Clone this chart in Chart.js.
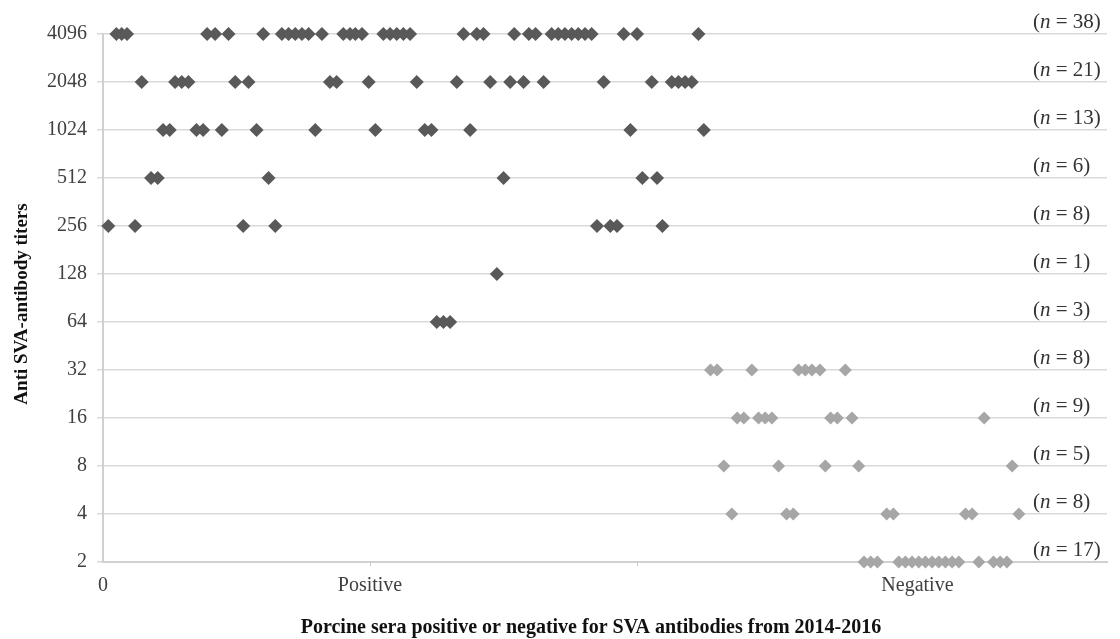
<!DOCTYPE html>
<html>
<head>
<meta charset="utf-8">
<script src="https://cdn.jsdelivr.net/npm/chart.js@4"></script>
<style>
  html, body { margin: 0; padding: 0; background: #fff; }
</style>
</head>
<body>
<canvas id="titerChart"></canvas>
<script>
// titer levels (log2 axis), top to bottom
const titerLevels = [4096, 2048, 1024, 512, 256, 128, 64, 32, 16, 8, 4, 2];

// sample positions along the x axis for each titer row
const xAt4096 = [5, 7, 9, 39, 42, 47, 60, 67, 69.5, 72, 74.5, 77, 82, 90, 92.5, 94.5, 97,
    105, 107.5, 110, 112.5, 115, 135, 140, 142.5, 154, 159.5, 162,
    168, 170.5, 173, 175.5, 178, 180.5, 183, 195, 200, 223];
const xAt2048 = [14.5, 27, 29.5, 32, 49.5, 54.5, 85, 87.5, 99.5, 117.5, 132.5, 145,
    152.5, 157.5, 165, 187.5, 205.5, 213, 215.5, 218, 220.5];
const xAt1024 = [22.5, 25, 35, 37.5, 44.5, 57.5, 79.5, 102, 120.5, 123, 137.5, 197.5, 225];
const xAt512 = [18, 20.5, 62, 150, 202, 207.5];
const xAt256 = [2, 12, 52.5, 64.5, 185, 190, 192.5, 209.5];
const xAt128 = [147.5];
const xAt64 = [125, 127.5, 130];
const xAt32 = [227.5, 230, 243, 260.5, 263, 265.5, 268.5, 278];
const xAt16 = [237.5, 240, 245.5, 248, 250.5, 272.5, 275, 280.5, 330];
const xAt8 = [232.5, 253, 270.5, 283, 340.5];
const xAt4 = [235.5, 256, 258.5, 293.5, 296, 323, 325.5, 343];
const xAt2 = [285, 287.5, 290, 298, 300.5, 303, 305.5, 308, 310.5, 313, 315.5, 318, 320.5,
    328, 333.5, 336, 338.5];

const rowsX = [xAt4096, xAt2048, xAt1024, xAt512, xAt256, xAt128, xAt64,
    xAt32, xAt16, xAt8, xAt4, xAt2];
const positiveLevels = [4096, 2048, 1024, 512, 256, 128, 64];

// x axis ticks
const xTickValues = [0, 100, 200, 305];
const xTickLabels = ['0', 'Positive', '', 'Negative'];

const yTitle = 'Anti SVA-antibody titers';
const xTitle = 'Porcine sera positive or negative for SVA antibodies from 2014-2016';

const SERIF = '"Liberation Serif", "Times New Roman", serif';

const positivePts = [];
const negativePts = [];
titerLevels.forEach((t, i) => {
    const target = positiveLevels.includes(t) ? positivePts : negativePts;
    rowsX[i].forEach(x => target.push({ x: x, y: t }));
});

// (n = ..) labels at right end of every row
const nLabelPlugin = {
    id: 'nLabels',
    afterDatasetsDraw(chart) {
        const ctx = chart.ctx;
        const yScale = chart.scales.y;
        ctx.save();
        ctx.fillStyle = '#333';
        ctx.textBaseline = 'middle';
        ctx.textAlign = 'left';
        titerLevels.forEach((t, i) => {
            const y = yScale.getPixelForValue(t) - 12;
            let x = 1033;
            const parts = [
                ['(', 'normal'],
                ['n', 'italic'],
                [' = ' + rowsX[i].length + ')', 'normal']
            ];
            parts.forEach(([txt, style]) => {
                ctx.font = style + ' 21px ' + SERIF;
                ctx.fillText(txt, x, y);
                x += ctx.measureText(txt).width;
            });
        });
        ctx.restore();
    }
};

// axis titles drawn by hand so they sit where the original has them
const axisTitlePlugin = {
    id: 'axisTitles',
    afterDraw(chart) {
        const ctx = chart.ctx;
        ctx.save();
        ctx.fillStyle = '#111';
        ctx.font = 'bold 20px ' + SERIF;
        ctx.textAlign = 'center';
        ctx.textBaseline = 'middle';
        ctx.fillText(xTitle, 591, 628);
        ctx.font = 'bold 19px ' + SERIF;
        ctx.translate(22, 304);
        ctx.rotate(-Math.PI / 2);
        ctx.fillText(yTitle, 0, 0);
        ctx.restore();
    }
};

const canvas = document.getElementById('titerChart');
canvas.width = 1120;
canvas.height = 639;
canvas.style.width = '1120px';
canvas.style.height = '639px';

new Chart(canvas, {
    type: 'scatter',
    data: {
        datasets: [{
            label: 'Positive',
            data: positivePts,
            pointStyle: 'rectRot',
            pointRadius: 7,
            pointHoverRadius: 7,
            backgroundColor: '#595959',
            borderColor: '#595959',
            borderWidth: 0,
            clip: false
        }, {
            label: 'Negative',
            data: negativePts,
            pointStyle: 'rectRot',
            pointRadius: 6.5,
            pointHoverRadius: 6.5,
            backgroundColor: '#a6a6a6',
            borderColor: '#a6a6a6',
            borderWidth: 0,
            clip: false
        }]
    },
    options: {
        responsive: false,
        maintainAspectRatio: false,
        animation: false,
        layout: { padding: { top: 34, right: 13, left: 0, bottom: 0 } },
        plugins: {
            legend: { display: false },
            tooltip: { enabled: false }
        },
        scales: {
            x: {
                type: 'linear',
                min: 0,
                max: 376,
                afterFit(scale) { scale.height = 77; },
                afterBuildTicks(scale) {
                    scale.ticks = xTickValues.map(v => ({ value: v }));
                },
                ticks: {
                    autoSkip: false,
                    maxRotation: 0,
                    padding: 8,
                    color: '#404040',
                    font: { family: SERIF, size: 20 },
                    callback: (v) => xTickLabels[xTickValues.indexOf(v)]
                },
                grid: {
                    drawOnChartArea: false,
                    drawTicks: true,
                    tickLength: 4,
                    color: (c) => (c.tick && (c.tick.value === 100 || c.tick.value === 200)) ? '#c8c8c8' : 'rgba(0,0,0,0)'
                },
                border: { color: '#d0d0d0', width: 2 }
            },
            y: {
                type: 'logarithmic',
                min: 2,
                max: 4096,
                afterFit(scale) { scale.width = 103; },
                afterBuildTicks(scale) {
                    scale.ticks = titerLevels.map(v => ({ value: v }));
                },
                ticks: {
                    autoSkip: false,
                    padding: 10,
                    color: '#404040',
                    font: { family: SERIF, size: 20 },
                    callback: (v) => String(v)
                },
                grid: {
                    color: '#d9d9d9',
                    lineWidth: 1.5,
                    tickLength: 6
                },
                border: { color: '#d0d0d0', width: 2 }
            }
        }
    },
    plugins: [nLabelPlugin, axisTitlePlugin]
});
</script>
</body>
</html>
